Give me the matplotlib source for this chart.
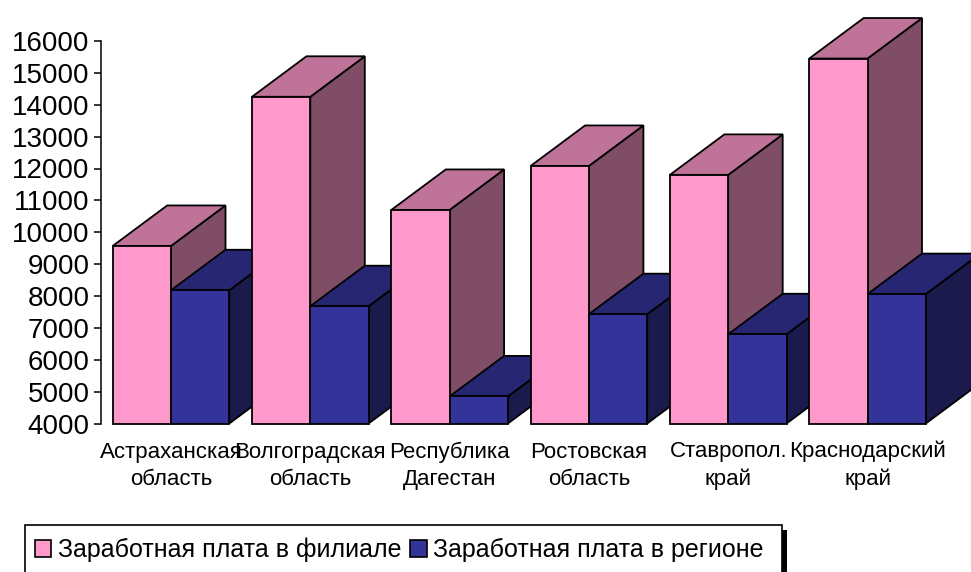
import matplotlib
matplotlib.use('Agg')
import matplotlib.pyplot as plt
from matplotlib.patches import Polygon, Patch, Rectangle

plt.rcParams['font.family'] = ['Liberation Sans', 'DejaVu Sans']

# Данные
regions = ['Астраханская\nобласть', 'Волгоградская\nобласть', 'Республика\nДагестан',
           'Ростовская\nобласть', 'Ставропол.\nкрай', 'Краснодарский\nкрай']
filial = [9570, 14250, 10700, 12080, 11800, 15450]
region = [8180, 7680, 4850, 7430, 6800, 8060]
y_ticks = list(range(4000, 16001, 1000))
series_names = ['Заработная плата в филиале', 'Заработная плата в регионе']

W, H = 971, 572
step_px = 139.3
first_px = 171
left_px, right_px = 100.5, 971
top_px, bottom_px = 41, 423.5
y_min, y_max = 4000, 16000

fig = plt.figure(figsize=(W / 100, H / 100), dpi=100, facecolor='white')
ax = fig.add_axes([left_px / W, 1 - bottom_px / H, (right_px - left_px) / W, (bottom_px - top_px) / H])
ax.set_xlim((left_px - first_px) / step_px, (right_px - first_px) / step_px)
ax.set_ylim(y_min, y_max)

bar_w = 58.3 / step_px
# глубина псевдо-3D в единицах данных
dx = 54.5 / step_px
dy = 40.5 * (y_max - y_min) / (bottom_px - top_px)
lw = 1.3


def bar3d(x, val, front, top, side, z):
    ax.bar(x, val - y_min, bar_w, bottom=y_min, align='edge', color=front,
           edgecolor='black', linewidth=lw, zorder=z + 0.2, clip_on=False)
    ax.add_patch(Polygon([(x, val), (x + dx, val + dy), (x + bar_w + dx, val + dy), (x + bar_w, val)],
                         closed=True, facecolor=top, edgecolor='black', linewidth=lw, zorder=z + 0.1, clip_on=False))
    ax.add_patch(Polygon([(x + bar_w, y_min), (x + bar_w + dx, y_min + dy), (x + bar_w + dx, val + dy), (x + bar_w, val)],
                         closed=True, facecolor=side, edgecolor='black', linewidth=lw, zorder=z, clip_on=False))


for i in range(len(regions)):
    bar3d(i - bar_w, filial[i], '#FF99CC', '#BF7399', '#804D66', 3 + 2 * i)
    bar3d(i, region[i], '#333399', '#262673', '#1A1A4D', 4 + 2 * i)

ax.set_xticks(range(len(regions)))
ax.set_xticklabels(regions, fontsize=16, linespacing=1.4, va='baseline')
# baseline многострочной подписи считается по последней строке
ax.tick_params(axis='x', length=0, pad=44.3)
ax.set_yticks(y_ticks)
ax.tick_params(axis='y', labelsize=20, length=5, width=1.1, pad=3)
for s in ['top', 'right', 'bottom']:
    ax.spines[s].set_visible(False)
ax.spines['left'].set_linewidth(1.1)

# Легенда с тенью, нижний край обрезан рисунком
fig.add_artist(Rectangle((781 / W, -0.01), 6 / W, 1 - 530 / H + 0.01, transform=fig.transFigure,
                         facecolor='black', edgecolor='none', zorder=5))
fig.add_artist(Rectangle((24.5 / W, -0.02), 757 / W, 1 - 525 / H + 0.02, transform=fig.transFigure,
                         facecolor='white', edgecolor='black', linewidth=1.2, zorder=6))
handles = [Patch(facecolor='#FF99CC', edgecolor='black', linewidth=1.2, label=series_names[0]),
           Patch(facecolor='#333399', edgecolor='black', linewidth=1.2, label=series_names[1])]
leg = fig.legend(handles=handles, ncol=2, loc='center left', bbox_to_anchor=(35 / W, 1 - 550 / H),
                 frameon=False, fontsize=18, handlelength=0.65, handleheight=0.65, handletextpad=0.27,
                 columnspacing=0.35, borderpad=0, borderaxespad=0)
leg.set_zorder(7)

fig.savefig('out.png', dpi=100)
